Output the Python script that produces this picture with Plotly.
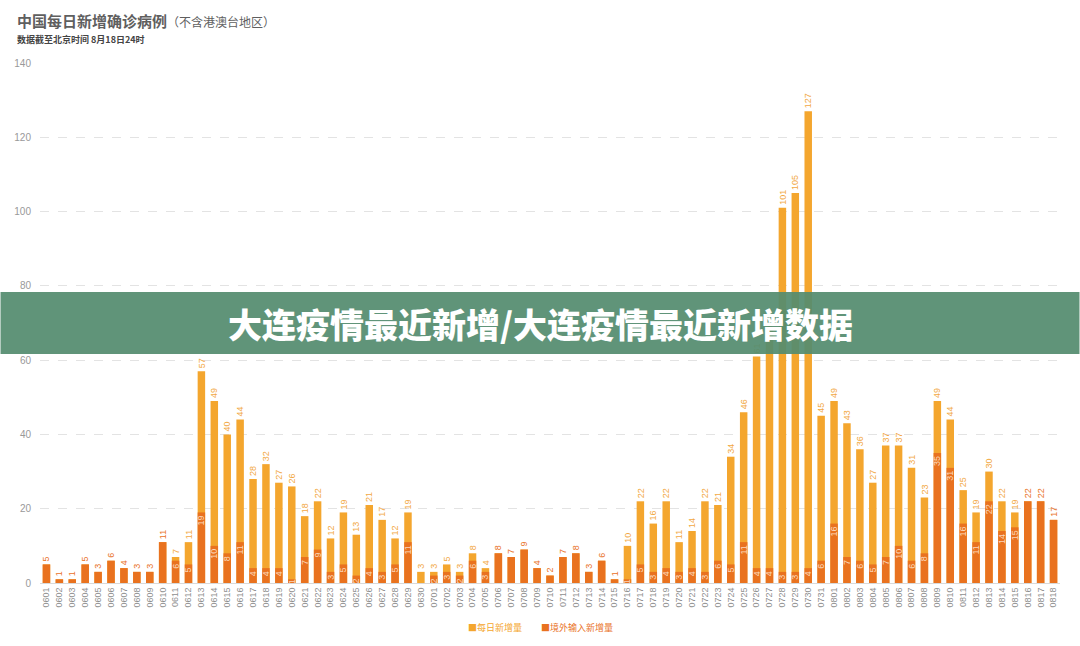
import plotly.graph_objects as go

dates = (["06%02d" % d for d in range(1, 31)] +
         ["07%02d" % d for d in range(1, 32)] +
         ["08%02d" % d for d in range(1, 19)])

total = [5, 1, 1, 5, 3, 6, 4, 3, 3, 11, 7, 11, 57, 49, 40, 44, 28, 32, 27, 26,
         18, 22, 12, 19, 13, 21, 17, 12, 19, 3,
         3, 5, 3, 8, 4, 8, 7, 9, 4, 2, 7, 8, 3, 6, 1, 10, 22, 16, 22, 11,
         14, 22, 21, 34, 46, 61, 68, 101, 105, 127, 45,
         49, 43, 36, 27, 37, 37, 31, 23, 49, 44, 25, 19, 30, 22, 19, 22, 22, 17]

imported = [5, 1, 1, 5, 3, 6, 4, 3, 3, 11, 6, 5, 19, 10, 8, 11, 4, 4, 4, 1,
            7, 9, 3, 5, 2, 4, 3, 5, 11, 0,
            2, 3, 2, 6, 3, 8, 7, 9, 4, 2, 7, 8, 3, 6, 1, 1, 5, 3, 4, 3,
            4, 3, 6, 5, 11, 4, 4, 3, 3, 4, 6,
            16, 7, 6, 5, 7, 10, 6, 8, 35, 31, 16, 11, 22, 14, 15, 22, 22, 17]

series_names = ["每日新增量", "境外输入新增量"]
title_text = "中国每日新增确诊病例"
title_note = "（不含港澳台地区）"
subtitle_text = "数据截至北京时间 8月18日24时"
banner_text = "大连疫情最近新增/大连疫情最近新增数据"

LIGHT = "#F4A62E"
DARK = "#E9721F"
LIGHT_TXT = "#F2A844"
PALE_TXT = "rgba(255,236,220,0.85)"
FONT = "Liberation Sans, Noto Sans CJK SC, sans-serif"
CJK = "Noto Sans CJK SC, sans-serif"

W, H = 1080, 646
L, R, T, B = 39.5, 19.5, 63, 63
PW, PH = W - L - R, H - T - B


def px_x(px):
    return (px - L) / PW


def px_y(py):
    return (H - B - py) / PH


tot_text = [str(t) if t != i else "" for t, i in zip(total, imported)]
imp_text = [str(i) if i > 0 else "" for i in imported]
imp_pos = ["outside" if i == t else "inside" for t, i in zip(total, imported)]
imp_col = [DARK if i == t else PALE_TXT for t, i in zip(total, imported)]

fig = go.Figure()
fig.add_trace(go.Bar(
    x=dates, y=total, name=series_names[0], marker=dict(color=LIGHT, line=dict(width=0)),
    text=tot_text, textposition="outside", textangle=-90, constraintext="none",
    textfont=dict(size=10, color=LIGHT_TXT, family=FONT), cliponaxis=False,
))
fig.add_trace(go.Bar(
    x=dates, y=imported, name=series_names[1], marker=dict(color=DARK, line=dict(width=0)),
    text=imp_text, textposition=imp_pos, textangle=-90, constraintext="none",
    insidetextanchor="end",
    textfont=dict(size=9, color=imp_col, family=FONT), cliponaxis=False,
))

fig.update_layout(
    width=W, height=H,
    margin=dict(l=L, r=R, t=T, b=B, pad=0),
    paper_bgcolor="white", plot_bgcolor="white",
    barmode="overlay", bargap=0.42,
    showlegend=False,
    uniformtext=dict(minsize=9, mode="show"),
    font=dict(family=FONT, color="#888"),
    xaxis=dict(
        type="category", tickangle=-90, tickfont=dict(size=9, color="#8f8f8f", family=FONT),
        showgrid=False, showline=True, linecolor="#d9d9d9", linewidth=1, ticks="",
        fixedrange=True,
    ),
    yaxis=dict(
        range=[0, 140], dtick=20, tickfont=dict(size=10, color="#999", family=FONT),
        showgrid=True, gridcolor="#e3e3e3", griddash="dash", gridwidth=1,
        zeroline=False, showline=False, ticks="", ticklabelstandoff=8,
    ),
)

annotations = [
    dict(x=px_x(14), y=px_y(20), xref="paper", yref="paper", xanchor="left", yanchor="middle",
         text=f"<b>{title_text}</b><span style='font-size:12px'>{title_note}</span>",
         showarrow=False, font=dict(size=15, color="#5f5f5f", family=CJK)),
    dict(x=px_x(14), y=px_y(40), xref="paper", yref="paper", xanchor="left", yanchor="middle",
         text=f"<b>{subtitle_text}</b>", showarrow=False,
         font=dict(size=9, color="#444", family=CJK)),
    dict(x=px_x(466), y=px_y(627), xref="paper", yref="paper", xanchor="left", yanchor="middle",
         text="■" + series_names[0], showarrow=False,
         font=dict(size=9, color=LIGHT, family=CJK)),
    dict(x=px_x(539), y=px_y(627), xref="paper", yref="paper", xanchor="left", yanchor="middle",
         text="■" + series_names[1], showarrow=False,
         font=dict(size=9, color=DARK, family=CJK)),
    dict(x=px_x(540), y=px_y(323), xref="paper", yref="paper", xanchor="center", yanchor="middle",
         text=banner_text, showarrow=False,
         font=dict(size=34, color="white", family=CJK, weight=900)),
]
fig.update_layout(annotations=annotations)

fig.add_shape(type="rect", xref="paper", yref="paper",
              x0=px_x(0), x1=px_x(W), y0=px_y(354), y1=px_y(292),
              fillcolor="rgba(84,140,111,0.93)", line=dict(width=0), layer="above")

fig.write_html("out.html")
